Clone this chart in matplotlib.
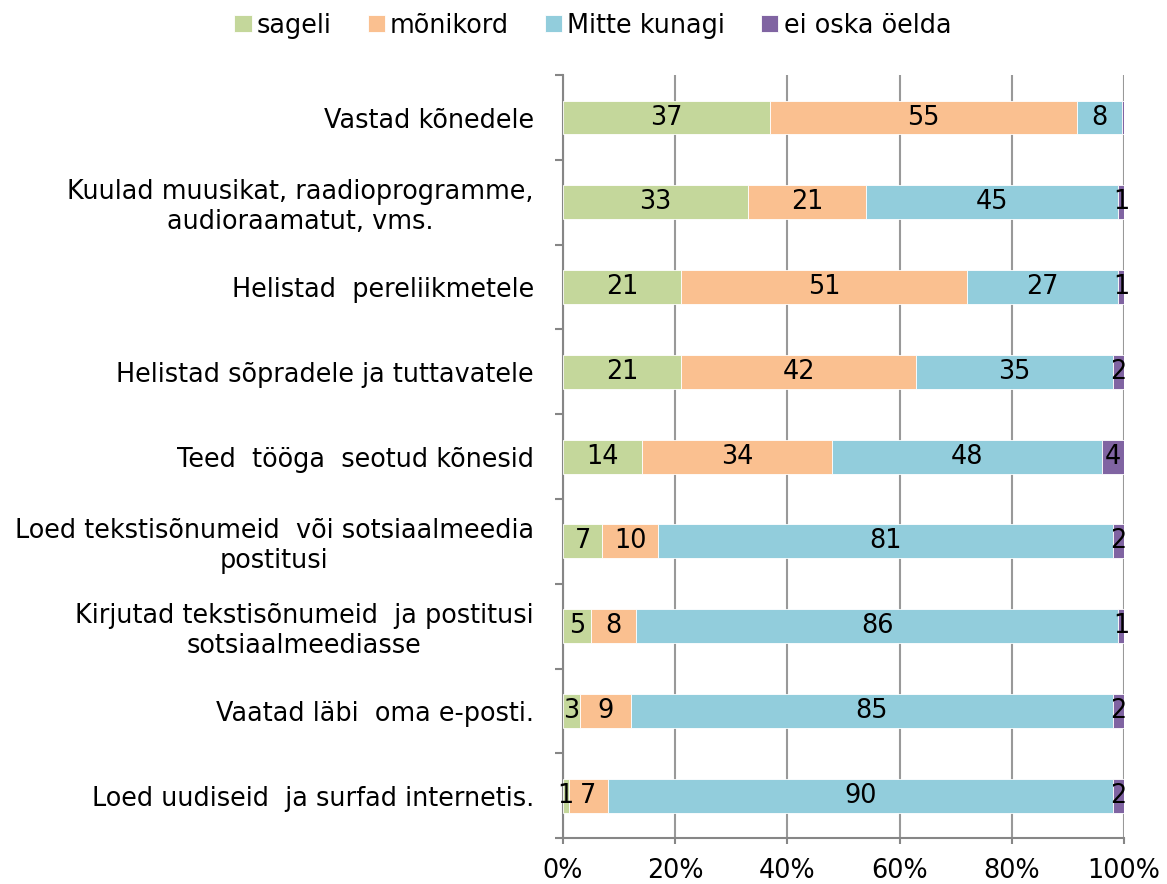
import matplotlib
matplotlib.use("Agg")
import matplotlib.pyplot as plt
import numpy as np

plt.rcParams['font.family'] = ['DejaVu Sans']

categories = [
    "Vastad kõnedele",
    "Kuulad muusikat, raadioprogramme,\naudioraamatut, vms.",
    "Helistad  pereliikmetele",
    "Helistad sõpradele ja tuttavatele",
    "Teed  tööga  seotud kõnesid",
    "Loed tekstisõnumeid  või sotsiaalmeedia\npostitusi",
    "Kirjutad tekstisõnumeid  ja postitusi\nsotsiaalmeediasse",
    "Vaatad läbi  oma e-posti.",
    "Loed uudiseid  ja surfad internetis.",
]
series_names = ["sageli", "mõnikord", "Mitte kunagi", "ei oska öelda"]
sageli = [37, 33, 21, 21, 14, 7, 5, 3, 1]
monikord = [55, 21, 51, 42, 34, 10, 8, 9, 7]
mitte_kunagi = [8, 45, 27, 35, 48, 81, 86, 85, 90]
ei_oska = [0.4, 1, 1, 2, 4, 2, 1, 2, 2]
colors = ["#C4D79B", "#FAC090", "#92CDDC", "#8064A2"]

FS = 18.4

data = np.array([sageli, monikord, mitte_kunagi, ei_oska], dtype=float)
totals = data.sum(axis=0)
pct = data / totals * 100

fig = plt.figure(figsize=(11.67, 8.84), dpi=100)
ax = fig.add_axes([0.4824, 0.052, 0.4808, 0.863])

y = np.arange(len(categories))
left = np.zeros(len(categories))
for i, name in enumerate(series_names):
    ax.barh(y, pct[i], left=left, height=0.4, color=colors[i],
            edgecolor="white", linewidth=0.6, label=name, zorder=3)
    for j in range(len(categories)):
        v = data[i, j]
        if round(v) >= 1:
            ax.text(left[j] + pct[i, j] / 2, y[j], f"{int(round(v))}",
                    ha="center", va="center", fontsize=FS, color="black", zorder=4)
    left += pct[i]

ax.set_xlim(0, 100)
ax.set_ylim(len(categories) - 0.5, -0.5)
ax.set_xticks(np.arange(0, 101, 20))
ax.set_xticklabels([f"{v}%" for v in range(0, 101, 20)], fontsize=FS)
ax.set_yticks(y)
ax.set_yticklabels(categories, fontsize=FS, multialignment="center")
ax.set_yticks(np.arange(-0.5, len(categories)), minor=True)
ax.tick_params(axis="y", which="major", length=0, pad=21)
ax.tick_params(axis="y", which="minor", length=6, width=1.5, color="#868686")
ax.tick_params(axis="x", which="major", length=4.5, width=1.5, color="#868686", pad=10)

ax.grid(axis="x", color="#999999", linewidth=1.5, zorder=0)
ax.set_axisbelow(True)
for s in ["top", "right"]:
    ax.spines[s].set_visible(False)
for s in ["left", "bottom"]:
    ax.spines[s].set_color("#868686")
    ax.spines[s].set_linewidth(1.5)

fig.legend(loc="center", bbox_to_anchor=(0.508, 0.971), ncol=4, frameon=False,
           fontsize=FS, handlelength=0.68, handleheight=0.68, handletextpad=0.2,
           columnspacing=1.4)

fig.savefig("out.png", dpi=100)
